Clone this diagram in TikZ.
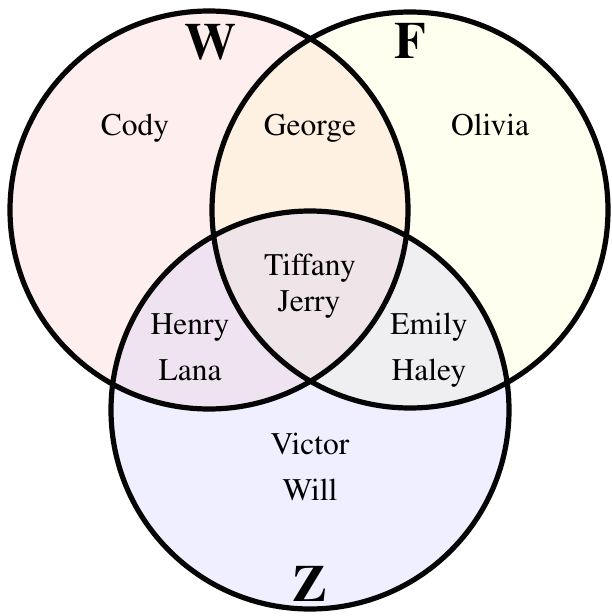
\documentclass[tikz,border=0pt]{standalone}
\usepackage[T1]{fontenc}
\usepackage{mathptmx}
\definecolor{wcol}{RGB}{255,180,180}
\definecolor{fcol}{RGB}{255,255,185}
\definecolor{zcol}{RGB}{185,185,255}
\definecolor{edge}{RGB}{5,5,5}
\tikzset{
  setfill/.style={fill opacity=0.22},
  setedge/.style={draw=edge, line width=5.2pt},
  person/.style={anchor=base, inner sep=0pt, font=\rmfamily\fontsize{31.5}{36}\selectfont, text=black},
  setname/.style={anchor=base, inner sep=0pt, font=\rmfamily\fontsize{52}{56}\selectfont\bfseries, text=black},
}
\begin{document}
\begin{tikzpicture}[x=1pt,y=-1pt]
\useasboundingbox[fill=white] (0,0) rectangle (611,616);
% fills
\fill[wcol, setfill] (209,210) circle (199pt);
\fill[fcol, setfill] (410,210) circle (198pt);
\fill[zcol, setfill] (310,410) circle (199pt);
% outlines
\draw[setedge] (209,210) circle (199pt);
\draw[setedge] (410,210) circle (198pt);
\draw[setedge] (310,410) circle (199pt);
% set names
\node[setname] (W) at (210,59) {W};
\node[setname] (F) at (410.5,58) {F};
\node[setname] (Z) at (310,601) {Z};
% people
\node[person] (cody) at (135,135) {Cody};
\node[person] (george) at (310,135) {George};
\node[person] (olivia) at (490,135) {Olivia};
\node[person] (tiffany) at (310,275) {Tiffany};
\node[person] (jerry) at (309,311) {Jerry};
\node[person] (henry) at (190,334) {Henry};
\node[person] (lana) at (190,380) {Lana};
\node[person] (emily) at (429,334) {Emily};
\node[person] (haley) at (429,380) {Haley};
\node[person] (victor) at (310,454) {Victor};
\node[person] (will) at (310,500) {Will};
\end{tikzpicture}
\end{document}
